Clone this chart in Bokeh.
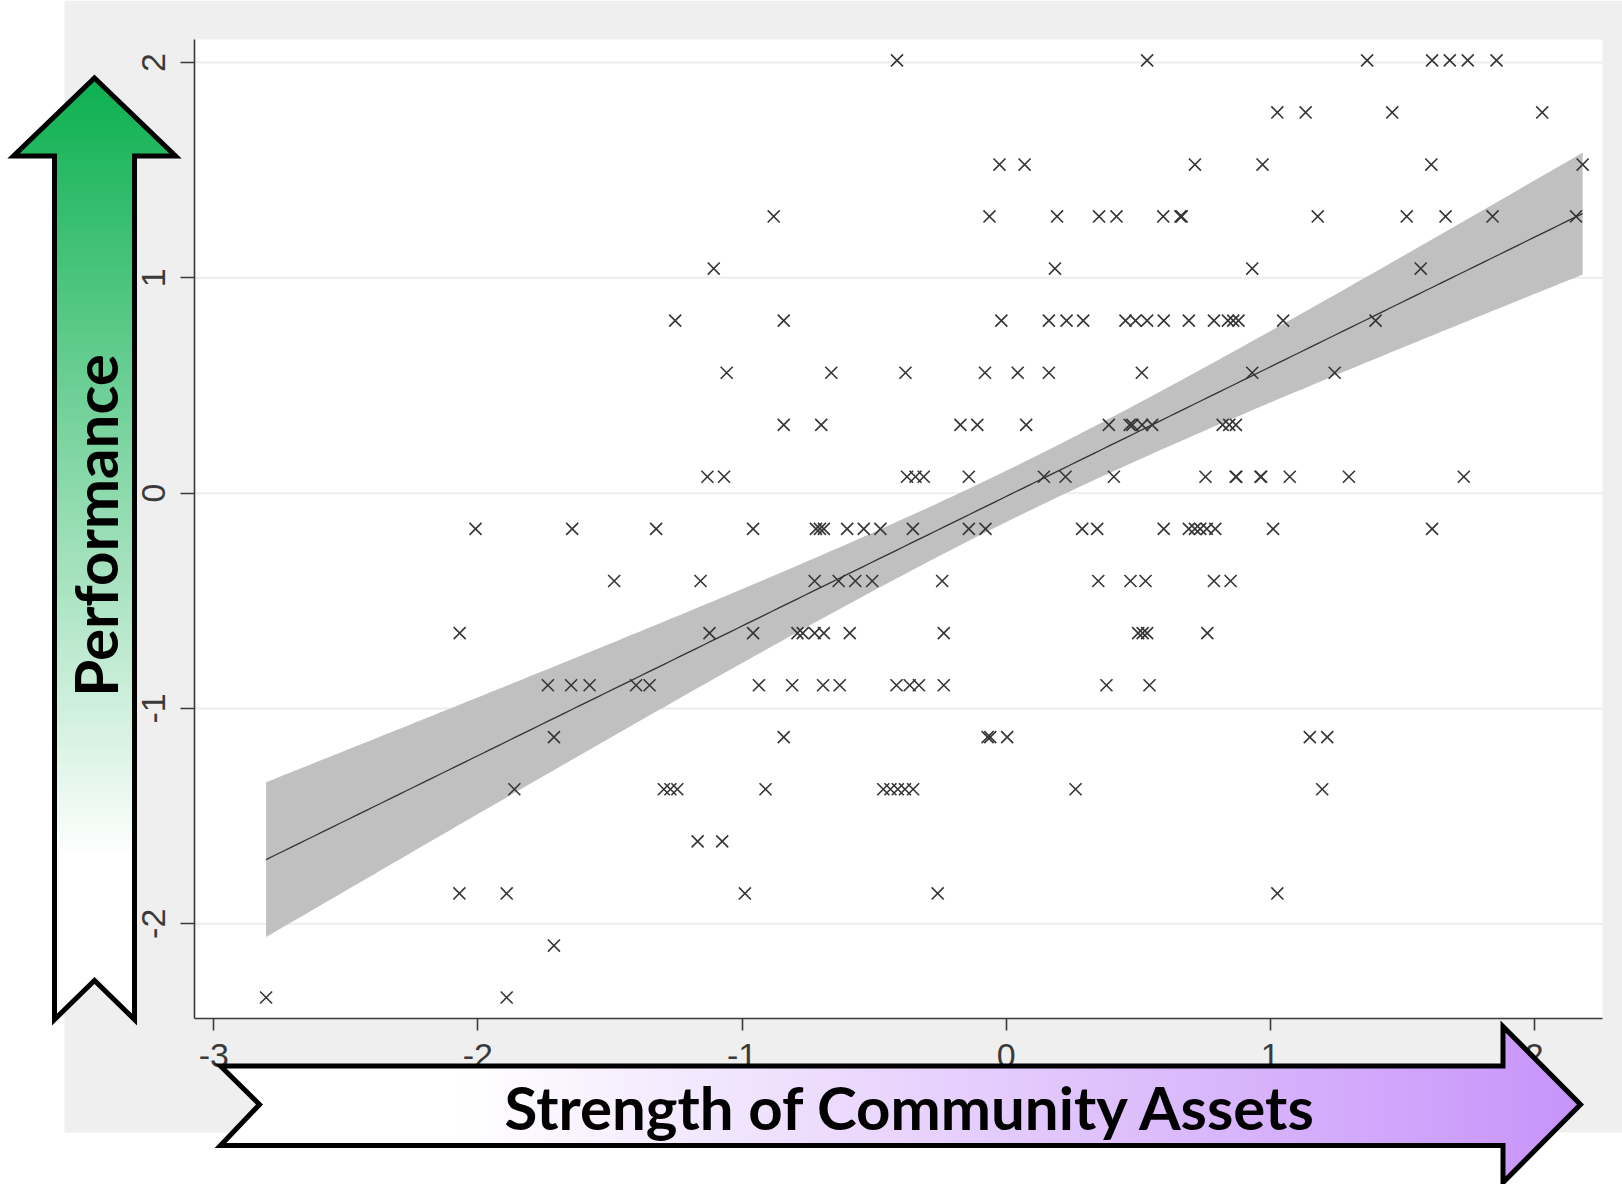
import numpy as np
from bokeh.plotting import figure
from bokeh.models import Range1d, LinearAxis, FixedTicker
from bokeh.core.properties import value
from bokeh.embed import file_html
from bokeh.resources import INLINE

# ---------------------------------------------------------------------------
# Data: performance score levels and the community-asset scores at each level
# ---------------------------------------------------------------------------
perf_levels = [2.010, 1.768, 1.526, 1.285, 1.043, 0.801, 0.559, 0.317, 0.076, -0.166,
               -0.408, -0.650, -0.892, -1.133, -1.375, -1.617, -1.859, -2.101, -2.342]

assets_l00 = [-0.413, 0.534, 1.367, 1.613, 1.680, 1.748, 1.857]
assets_l01 = [1.027, 1.134, 1.462, 2.030]
assets_l02 = [-0.025, 0.070, 0.715, 0.971, 1.610, 2.183]
assets_l03 = [-0.880, -0.063, 0.193, 0.352, 0.418, 0.595, 0.660, 0.665, 1.180, 1.517,
              1.664, 1.842, 2.158]
assets_l04 = [-1.107, 0.185, 0.932, 1.570]
assets_l05 = [-1.253, -0.842, -0.018, 0.162, 0.229, 0.292, 0.452, 0.490, 0.534, 0.597,
              0.692, 0.787, 0.840, 0.860, 0.880, 1.049, 1.399]
assets_l06 = [-1.058, -0.662, -0.381, -0.080, 0.044, 0.162, 0.514, 0.932, 1.244]
assets_l07 = [-0.842, -0.700, -0.173, -0.109, 0.076, 0.389, 0.468, 0.478, 0.515, 0.553,
              0.820, 0.845, 0.870]
assets_l08 = [-1.131, -1.068, -0.375, -0.343, -0.312, -0.141, 0.143, 0.225, 0.408, 0.755,
              0.869, 0.872, 0.963, 0.966, 1.074, 1.298, 1.733]
assets_l09 = [-2.009, -1.643, -1.325, -0.958, -0.720, -0.705, -0.690, -0.602, -0.539, -0.476,
              -0.353, -0.141, -0.078, 0.288, 0.345, 0.597, 0.692, 0.715, 0.735, 0.760,
              0.792, 1.011, 1.613]
assets_l10 = [-1.484, -1.157, -0.725, -0.634, -0.571, -0.507, -0.242, 0.349, 0.471, 0.528,
              0.787, 0.850]
assets_l11 = [-2.069, -1.123, -0.958, -0.790, -0.770, -0.725, -0.690, -0.592, -0.236, 0.500,
              0.517, 0.534, 0.762]
assets_l12 = [-1.735, -1.647, -1.577, -1.401, -1.350, -0.936, -0.810, -0.693, -0.630, -0.415,
              -0.365, -0.330, -0.236, 0.380, 0.543]
assets_l13 = [-1.712, -0.842, -0.070, -0.060, 0.004, 1.150, 1.216]
assets_l14 = [-1.862, -1.296, -1.271, -1.245, -0.911, -0.465, -0.438, -0.410, -0.383, -0.352,
              0.263, 1.197]
assets_l15 = [-1.168, -1.075]
assets_l16 = [-2.070, -1.891, -0.989, -0.259, 1.027]
assets_l17 = [-1.712]
assets_l18 = [-2.802, -1.891]

assets_by_level = [assets_l00, assets_l01, assets_l02, assets_l03, assets_l04, assets_l05,
                   assets_l06, assets_l07, assets_l08, assets_l09, assets_l10, assets_l11,
                   assets_l12, assets_l13, assets_l14, assets_l15, assets_l16, assets_l17,
                   assets_l18]

x_ticks = [-3, -2, -1, 0, 1, 2]
x_tick_labels = ["-3", "-2", "-1", "0", "1", "2"]
y_ticks = [-2, -1, 0, 1, 2]
y_tick_labels = ["-2", "-1", "0", "1", "2"]

x_title = "Strength of Community Assets"
y_title = "Performance"

# ---------------------------------------------------------------------------
# Linear fit with 95% confidence band of the mean prediction
# ---------------------------------------------------------------------------
xs = np.concatenate([np.asarray(a, float) for a in assets_by_level])
ys = np.concatenate([np.full(len(a), lv) for a, lv in zip(assets_by_level, perf_levels)])
n = len(xs)
xm, ym = xs.mean(), ys.mean()
sxx = ((xs - xm) ** 2).sum()
slope = ((xs - xm) * (ys - ym)).sum() / sxx
intercept = ym - slope * xm
resid = ys - (intercept + slope * xs)
s_err = np.sqrt((resid ** 2).sum() / (n - 2))
t_crit = 1.973
fit_x = np.linspace(xs.min(), xs.max(), 160)
fit_y = intercept + slope * fit_x
half = t_crit * s_err * np.sqrt(1.0 / n + (fit_x - xm) ** 2 / sxx)

# ---------------------------------------------------------------------------
# Canvas: the frame fills the page; data ranges place the plot area
# ---------------------------------------------------------------------------
W, H = 1622, 1184
PX_PER_X = 264.1
PX_PER_Y = 215.33
X0_PX = 1005.6   # pixel column of x = 0
Y0_PX = 492.65   # pixel row of y = 0


def dx(px):
    return (px - X0_PX) / PX_PER_X


def dy(py):
    return (Y0_PX - py) / PX_PER_Y


p = figure(width=W, height=H,
           x_range=Range1d(dx(0), dx(W)), y_range=Range1d(dy(H), dy(0)),
           x_axis_location=None, y_axis_location=None,
           toolbar_location=None, output_backend="svg",
           min_border=0, background_fill_color="white", border_fill_color="white",
           outline_line_color=None)
p.xgrid.visible = False
p.ygrid.visible = False
p.extra_x_ranges = {"px": Range1d(0, W)}
p.extra_y_ranges = {"py": Range1d(H, 0)}
PX = dict(x_range_name="px", y_range_name="py")

# plot region boundaries (pixels)
PL, PR, PT, PB = 193.5, 1602, 39, 1018.3

# grey graph region and white plot region
p.quad(left=64, right=W, top=0, bottom=1132, fill_color="#efefef", line_color=None,
       level="image", **PX)
p.quad(left=PL, right=PR, top=PT, bottom=PB, fill_color="white", line_color=None,
       level="image", **PX)

# horizontal grid lines
p.segment(x0=[dx(PL)] * len(y_ticks), x1=[dx(PR)] * len(y_ticks), y0=y_ticks, y1=y_ticks,
          line_color="#ededed", line_width=2, level="underlay")

# confidence band, fitted line, observations
p.varea(x=fit_x, y1=fit_y - half, y2=fit_y + half, fill_color="#c0c0c0")
p.line(fit_x, fit_y, line_color="#333333", line_width=1.3)
p.scatter(xs, ys, marker="x", size=17, line_color="#353535", line_width=1.6)

# axes
axis_style = dict(axis_line_color="#3a3a3a", axis_line_width=1.6,
                  major_tick_line_color="#3a3a3a", major_tick_line_width=1.6,
                  major_tick_in=0, minor_tick_in=0, minor_tick_out=0,
                  major_label_text_font="Liberation Sans",
                  major_label_text_font_size="34px",
                  major_label_text_color="#3a3a3a")
yaxis = LinearAxis(fixed_location=dx(PL), bounds=(dy(PB), dy(PT)),
                   ticker=FixedTicker(ticks=y_ticks),
                   major_label_overrides=dict(zip(y_ticks, y_tick_labels)),
                   major_label_orientation="vertical", major_tick_out=14,
                   major_label_standoff=15, **axis_style)
xaxis = LinearAxis(fixed_location=dy(PB), bounds=(dx(PL), dx(PR)),
                   ticker=FixedTicker(ticks=x_ticks),
                   major_label_overrides=dict(zip(x_ticks, x_tick_labels)),
                   major_tick_out=12, major_label_standoff=13, **axis_style)
p.add_layout(yaxis, "left")
p.add_layout(xaxis, "below")


def mix(c0, c1, t):
    t = min(max(t, 0.0), 1.0)
    return "#%02x%02x%02x" % tuple(int(round(a + (b - a) * t)) for a, b in zip(c0, c1))


step = 3.0

# ---------------------------------------------------------------------------
# Vertical arrow (performance), green fading to white
# ---------------------------------------------------------------------------
g_cx, g_tip, g_base, g_half_head = 94.0, 77.5, 155.5, 81.0
g_l, g_r, g_bot, g_notch = 54.0, 134.0, 1019.0, 980.0
g_out_x = [g_cx, g_cx + g_half_head, g_r, g_r, g_cx, g_l, g_l, g_cx - g_half_head]
g_out_y = [g_tip, g_base, g_base, g_bot, g_notch, g_bot, g_base, g_base]
green = (12, 176, 80)
white = (255, 255, 255)
g_fade_end = 860.0

p.patch(g_out_x, g_out_y, fill_color="white", line_color=None, **PX)
strip_xs, strip_ys, strip_c = [], [], []
for y0 in np.arange(g_tip, g_base, step):          # arrow head
    y1 = min(y0 + step + 0.8, g_base)
    h0 = (y0 - g_tip) / (g_base - g_tip) * g_half_head
    h1 = (y1 - g_tip) / (g_base - g_tip) * g_half_head
    strip_xs.append([g_cx - h0, g_cx + h0, g_cx + h1, g_cx - h1])
    strip_ys.append([y0, y0, y1, y1])
    strip_c.append(mix(green, white, (y0 + step / 2 - g_tip) / (g_fade_end - g_tip)))
for y0 in np.arange(g_base, g_fade_end, step):     # arrow shaft
    y1 = y0 + step + 0.8
    strip_xs.append([g_l, g_r, g_r, g_l])
    strip_ys.append([y0, y0, y1, y1])
    strip_c.append(mix(green, white, (y0 + step / 2 - g_tip) / (g_fade_end - g_tip)))
p.patches(strip_xs, strip_ys, fill_color=strip_c, line_color=None, **PX)
p.patch(g_out_x, g_out_y, fill_color=None, line_color="black", line_width=5,
        line_join="miter", **PX)
p.text(x=[94], y=[525], text=[y_title], angle=np.pi / 2,
       text_font=value("Lato"), text_font_style="bold", text_font_size="60px",
       text_color="black", text_align="center", text_baseline="alphabetic", **PX)

# ---------------------------------------------------------------------------
# Horizontal arrow (community assets), white fading to violet
# ---------------------------------------------------------------------------
h_left, h_notch, h_top, h_bot = 220.0, 259.0, 1065.5, 1145.0
h_neck, h_tip, h_tip_y, h_head_top, h_head_bot = 1502.5, 1580.0, 1104.0, 1026.0, 1182.0
h_out_x = [h_left, h_neck, h_neck, h_tip, h_neck, h_neck, h_left, h_notch]
h_out_y = [h_top, h_top, h_head_top, h_tip_y, h_head_bot, h_bot, h_bot, h_tip_y]
violet = (199, 148, 250)
h_fade_start = 455.0

p.patch(h_out_x, h_out_y, fill_color="white", line_color=None, level="overlay", **PX)
strip_xs, strip_ys, strip_c = [], [], []
for x0 in np.arange(h_fade_start, h_neck, step):   # arrow shaft
    x1 = x0 + step + 0.8
    strip_xs.append([x0, x1, x1, x0])
    strip_ys.append([h_top, h_top, h_bot, h_bot])
    strip_c.append(mix(white, violet, (x0 + step / 2 - h_fade_start) / (h_tip - h_fade_start)))
for x0 in np.arange(h_neck, h_tip, step):          # arrow head
    x1 = min(x0 + step + 0.8, h_tip)
    f0 = (x0 - h_neck) / (h_tip - h_neck)
    f1 = (x1 - h_neck) / (h_tip - h_neck)
    t0 = h_head_top + (h_tip_y - h_head_top) * f0
    t1 = h_head_top + (h_tip_y - h_head_top) * f1
    b0 = h_head_bot + (h_tip_y - h_head_bot) * f0
    b1 = h_head_bot + (h_tip_y - h_head_bot) * f1
    strip_xs.append([x0, x1, x1, x0])
    strip_ys.append([t0, t1, b1, b0])
    strip_c.append(mix(white, violet, (x0 + step / 2 - h_fade_start) / (h_tip - h_fade_start)))
p.patches(strip_xs, strip_ys, fill_color=strip_c, line_color=None, level="overlay", **PX)
p.patch(h_out_x, h_out_y, fill_color=None, line_color="black", line_width=5,
        line_join="miter", level="overlay", **PX)
p.text(x=[911], y=[1106], text=[x_title],
       text_font=value("Lato"), text_font_style="bold", text_font_size="60px",
       text_color="black", text_align="center", text_baseline="alphabetic",
       level="overlay", **PX)

open("out.html", "w").write(file_html(p, INLINE))
